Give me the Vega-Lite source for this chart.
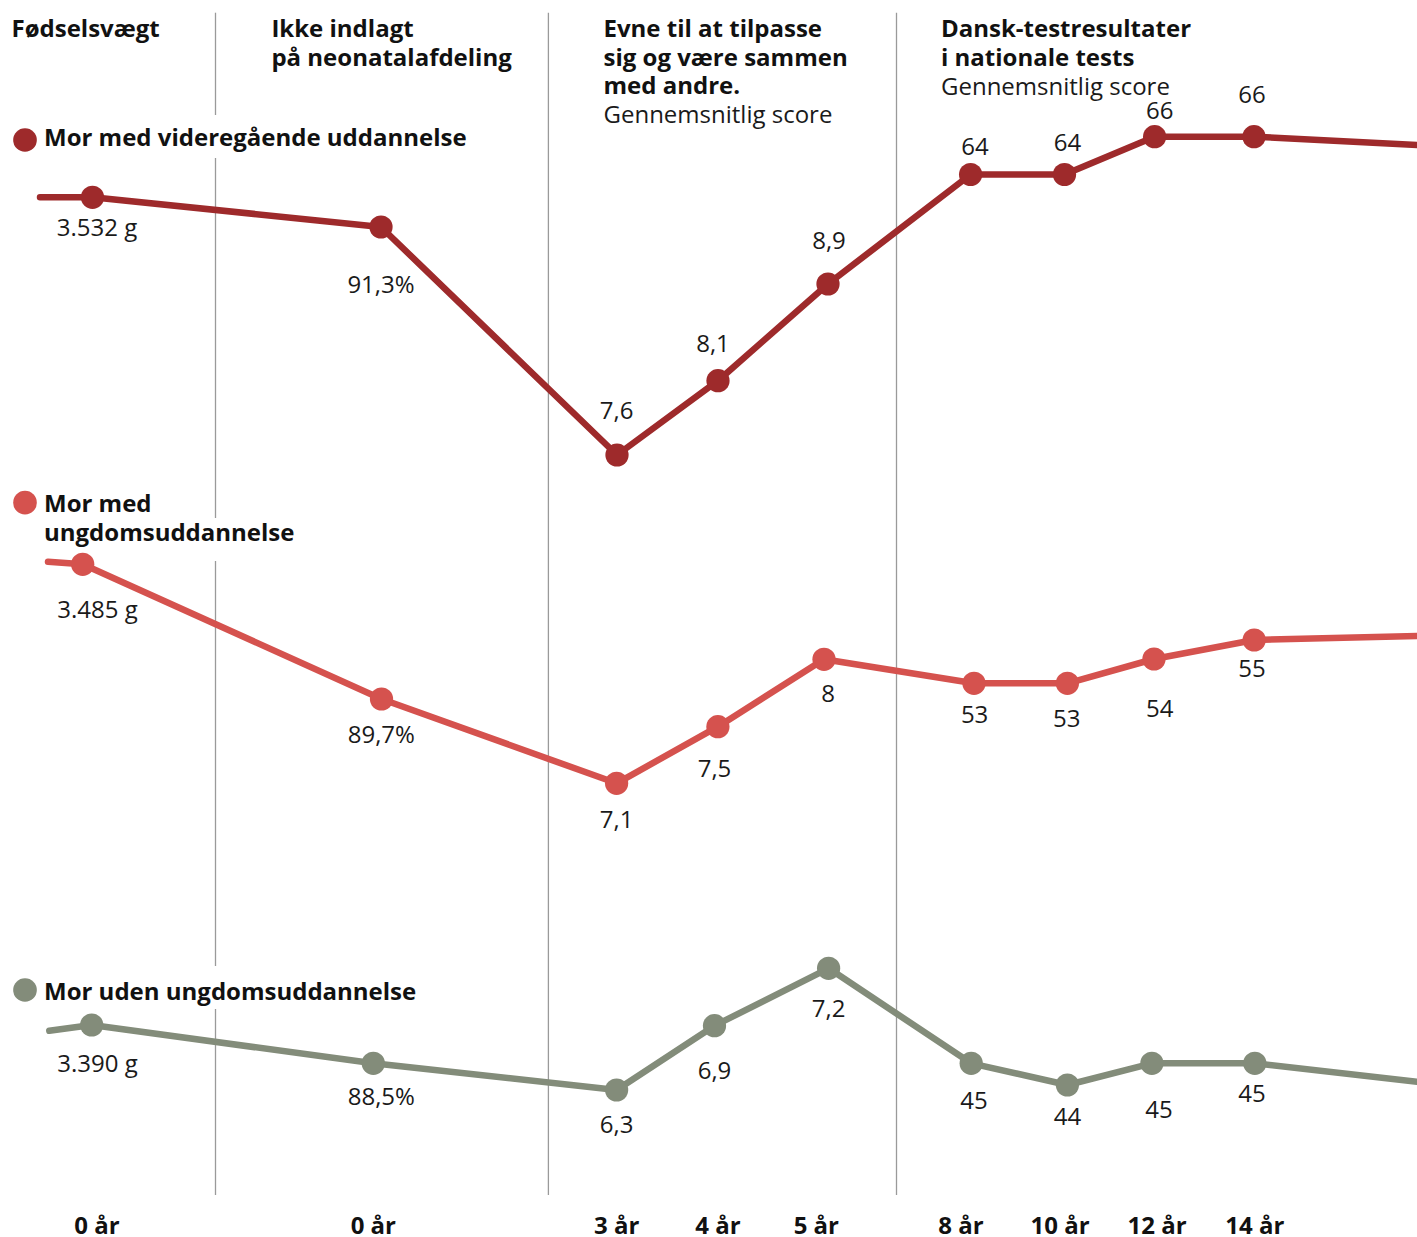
{
  "$schema": "https://vega.github.io/schema/vega-lite/v6.json",
  "width": 1417,
  "height": 1237,
  "padding": 0,
  "autosize": {"type": "none"},
  "background": "white",
  "view": {"stroke": null},
  "config": {"text": {"font": "Open Sans", "fontSize": 24, "color": "#1a1a1a"}},
  "datasets": {
    "separators": [
      {"pos": 215.5, "top": 12.7, "bottom": 115},
      {"pos": 215.5, "top": 158, "bottom": 518},
      {"pos": 215.5, "top": 561, "bottom": 966},
      {"pos": 215.5, "top": 1009, "bottom": 1195},
      {"pos": 548.4, "top": 12.7, "bottom": 1195},
      {"pos": 896.5, "top": 12.7, "bottom": 1195}
    ],
    "series": [
      {"serie": "Mor med videregående uddannelse", "pos": 40, "level": 197.3, "dot": false},
      {"serie": "Mor med videregående uddannelse", "pos": 92.5, "level": 197.3, "dot": true},
      {"serie": "Mor med videregående uddannelse", "pos": 381, "level": 227, "dot": true},
      {"serie": "Mor med videregående uddannelse", "pos": 617, "level": 455, "dot": true},
      {"serie": "Mor med videregående uddannelse", "pos": 718, "level": 380.7, "dot": true},
      {"serie": "Mor med videregående uddannelse", "pos": 828, "level": 284, "dot": true},
      {"serie": "Mor med videregående uddannelse", "pos": 970.6, "level": 174.5, "dot": true},
      {"serie": "Mor med videregående uddannelse", "pos": 1064.5, "level": 174.5, "dot": true},
      {"serie": "Mor med videregående uddannelse", "pos": 1154.6, "level": 136.7, "dot": true},
      {"serie": "Mor med videregående uddannelse", "pos": 1254, "level": 136.7, "dot": true},
      {"serie": "Mor med videregående uddannelse", "pos": 1417, "level": 145, "dot": false},
      {"serie": "Mor med ungdomsuddannelse", "pos": 48, "level": 561.7, "dot": false},
      {"serie": "Mor med ungdomsuddannelse", "pos": 82.7, "level": 564.3, "dot": true},
      {"serie": "Mor med ungdomsuddannelse", "pos": 381.5, "level": 699, "dot": true},
      {"serie": "Mor med ungdomsuddannelse", "pos": 616.6, "level": 783.3, "dot": true},
      {"serie": "Mor med ungdomsuddannelse", "pos": 717.9, "level": 726.7, "dot": true},
      {"serie": "Mor med ungdomsuddannelse", "pos": 824, "level": 659.3, "dot": true},
      {"serie": "Mor med ungdomsuddannelse", "pos": 974, "level": 683.3, "dot": true},
      {"serie": "Mor med ungdomsuddannelse", "pos": 1067.4, "level": 683.3, "dot": true},
      {"serie": "Mor med ungdomsuddannelse", "pos": 1154, "level": 659, "dot": true},
      {"serie": "Mor med ungdomsuddannelse", "pos": 1254.2, "level": 640, "dot": true},
      {"serie": "Mor med ungdomsuddannelse", "pos": 1417, "level": 636, "dot": false},
      {"serie": "Mor uden ungdomsuddannelse", "pos": 49.3, "level": 1030.7, "dot": false},
      {"serie": "Mor uden ungdomsuddannelse", "pos": 91.7, "level": 1025, "dot": true},
      {"serie": "Mor uden ungdomsuddannelse", "pos": 373.3, "level": 1063.3, "dot": true},
      {"serie": "Mor uden ungdomsuddannelse", "pos": 616.6, "level": 1090, "dot": true},
      {"serie": "Mor uden ungdomsuddannelse", "pos": 714.5, "level": 1025.7, "dot": true},
      {"serie": "Mor uden ungdomsuddannelse", "pos": 828.6, "level": 968.3, "dot": true},
      {"serie": "Mor uden ungdomsuddannelse", "pos": 971.2, "level": 1063.3, "dot": true},
      {"serie": "Mor uden ungdomsuddannelse", "pos": 1067.4, "level": 1085, "dot": true},
      {"serie": "Mor uden ungdomsuddannelse", "pos": 1151.9, "level": 1063.3, "dot": true},
      {"serie": "Mor uden ungdomsuddannelse", "pos": 1254.8, "level": 1063.3, "dot": true},
      {"serie": "Mor uden ungdomsuddannelse", "pos": 1417, "level": 1081.7, "dot": false}
    ],
    "values": [
      {"text": "3.532 g", "pos": 97, "level": 235.7},
      {"text": "91,3%", "pos": 381, "level": 293},
      {"text": "7,6", "pos": 616.7, "level": 419},
      {"text": "8,1", "pos": 713, "level": 351.7},
      {"text": "8,9", "pos": 829, "level": 249},
      {"text": "64", "pos": 975, "level": 155},
      {"text": "64", "pos": 1067.4, "level": 150.7},
      {"text": "66", "pos": 1159.7, "level": 119.3},
      {"text": "66", "pos": 1252, "level": 103.3},
      {"text": "3.485 g", "pos": 97.5, "level": 618.3},
      {"text": "89,7%", "pos": 381.3, "level": 743.3},
      {"text": "7,1", "pos": 616.6, "level": 827.7},
      {"text": "7,5", "pos": 714.5, "level": 776.7},
      {"text": "8", "pos": 828, "level": 702.3},
      {"text": "53", "pos": 974.6, "level": 723.3},
      {"text": "53", "pos": 1066.8, "level": 726.7},
      {"text": "54", "pos": 1159.7, "level": 716.7},
      {"text": "55", "pos": 1252, "level": 676.7},
      {"text": "3.390 g", "pos": 97.5, "level": 1071.7},
      {"text": "88,5%", "pos": 381.3, "level": 1105},
      {"text": "6,3", "pos": 616.6, "level": 1132.7},
      {"text": "6,9", "pos": 714.5, "level": 1079.3},
      {"text": "7,2", "pos": 828.6, "level": 1016.7},
      {"text": "45", "pos": 974, "level": 1109.3},
      {"text": "44", "pos": 1067.4, "level": 1125},
      {"text": "45", "pos": 1159, "level": 1118.3},
      {"text": "45", "pos": 1252, "level": 1101.7}
    ],
    "legendDots": [
      {"serie": "Mor med videregående uddannelse", "pos": 25, "level": 140},
      {"serie": "Mor med ungdomsuddannelse", "pos": 25, "level": 502.7},
      {"serie": "Mor uden ungdomsuddannelse", "pos": 25, "level": 990}
    ],
    "boldText": [
      {"text": "Fødselsvægt", "pos": 11.5, "level": 36.7},
      {"text": "Ikke indlagt", "pos": 271.4, "level": 36.7},
      {"text": "på neonatalafdeling", "pos": 271.4, "level": 65.5},
      {"text": "Evne til at tilpasse", "pos": 603.5, "level": 36.7},
      {"text": "sig og være sammen", "pos": 603.5, "level": 65.5},
      {"text": "med andre.", "pos": 603.5, "level": 94.3},
      {"text": "Dansk-testresultater", "pos": 941, "level": 36.7},
      {"text": "i nationale tests", "pos": 941, "level": 65.5},
      {"text": "Mor med videregående uddannelse", "pos": 44, "level": 145.5},
      {"text": "Mor med", "pos": 44, "level": 512.3},
      {"text": "ungdomsuddannelse", "pos": 44, "level": 541},
      {"text": "Mor uden ungdomsuddannelse", "pos": 44, "level": 1000}
    ],
    "subtitles": [
      {"text": "Gennemsnitlig score", "pos": 603.5, "level": 123.3},
      {"text": "Gennemsnitlig score", "pos": 941, "level": 94.5}
    ],
    "ages": [
      {"text": "0 år", "pos": 97, "level": 1234},
      {"text": "0 år", "pos": 373.3, "level": 1234},
      {"text": "3 år", "pos": 616.6, "level": 1234},
      {"text": "4 år", "pos": 717.9, "level": 1234},
      {"text": "5 år", "pos": 816.3, "level": 1234},
      {"text": "8 år", "pos": 961, "level": 1234},
      {"text": "10 år", "pos": 1060, "level": 1234},
      {"text": "12 år", "pos": 1157, "level": 1234},
      {"text": "14 år", "pos": 1254.8, "level": 1234}
    ]
  },
  "encoding": {
    "x": {
      "field": "pos",
      "type": "quantitative",
      "axis": null,
      "scale": {"domain": [0, 1417], "nice": false, "zero": false}
    },
    "y": {
      "field": "level",
      "type": "quantitative",
      "axis": null,
      "scale": {"domain": [0, 1237], "reverse": true, "nice": false, "zero": false}
    }
  },
  "layer": [
    {
      "data": {"name": "separators"},
      "mark": {"type": "rule", "color": "#9a9a9a", "strokeWidth": 1.3},
      "encoding": {
        "y": {"field": "top", "type": "quantitative"},
        "y2": {"field": "bottom"}
      }
    },
    {
      "data": {"name": "series"},
      "mark": {"type": "line", "strokeWidth": 6.5, "strokeCap": "round", "strokeJoin": "round"},
      "encoding": {
        "color": {
          "field": "serie",
          "type": "nominal",
          "legend": null,
          "scale": {
            "domain": ["Mor med videregående uddannelse", "Mor med ungdomsuddannelse", "Mor uden ungdomsuddannelse"],
            "range": ["#9e2a2b", "#d5524e", "#838c7a"]
          }
        },
        "order": {"field": "pos", "type": "quantitative"}
      }
    },
    {
      "data": {"name": "series"},
      "transform": [{"filter": "datum.dot"}],
      "mark": {"type": "circle", "size": 540, "opacity": 1},
      "encoding": {
        "color": {"field": "serie", "type": "nominal", "legend": null}
      }
    },
    {
      "data": {"name": "legendDots"},
      "mark": {"type": "circle", "size": 560, "opacity": 1},
      "encoding": {
        "color": {"field": "serie", "type": "nominal", "legend": null}
      }
    },
    {
      "data": {"name": "values"},
      "mark": {"type": "text", "align": "center", "baseline": "alphabetic"},
      "encoding": {"text": {"field": "text", "type": "nominal"}}
    },
    {
      "data": {"name": "boldText"},
      "mark": {"type": "text", "align": "left", "baseline": "alphabetic", "fontWeight": "bold", "color": "#111111"},
      "encoding": {"text": {"field": "text", "type": "nominal"}}
    },
    {
      "data": {"name": "subtitles"},
      "mark": {"type": "text", "align": "left", "baseline": "alphabetic"},
      "encoding": {"text": {"field": "text", "type": "nominal"}}
    },
    {
      "data": {"name": "ages"},
      "mark": {"type": "text", "align": "center", "baseline": "alphabetic", "fontWeight": "bold", "color": "#111111"},
      "encoding": {"text": {"field": "text", "type": "nominal"}}
    }
  ]
}
